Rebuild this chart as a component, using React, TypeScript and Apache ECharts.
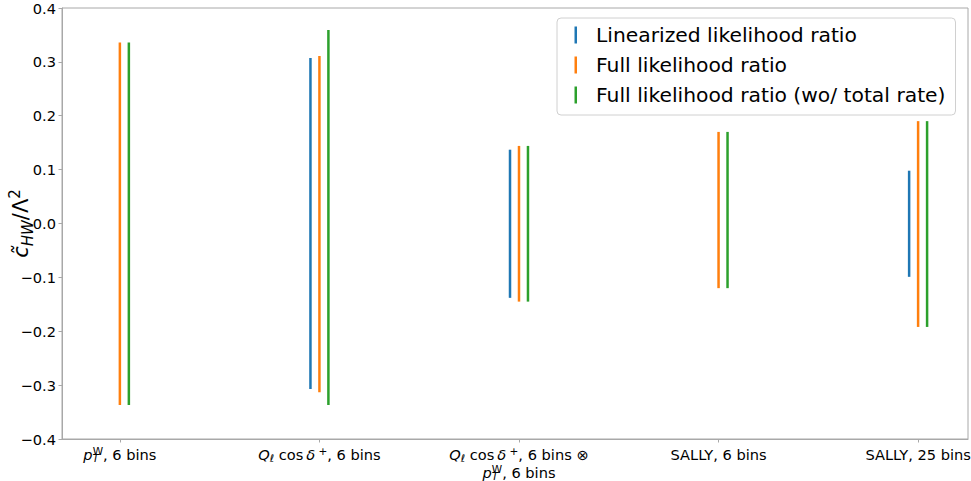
import React, { useEffect, useRef } from "react";
import * as echarts from "echarts";

// Category positions (x = 0..4) and their labels (rich text)
const categoryPositions = [0, 1, 2, 3, 4];
const categoryLabels = [
  "{i|p}{subz|T}{sup|W}{n|, 6 bins}",
  "{i|Q}{sub|ℓ}{n| cos\u2009}{i|δ}{sup| +}{n|, 6 bins}",
  "{i|Q}{sub|ℓ}{n| cos\u2009}{i|δ}{sup| +}{n|, 6 bins ⊗}\n{i|p}{subz|T}{sup|W}{n|, 6 bins}",
  "{n|SALLY, 6 bins}",
  "{n|SALLY, 25 bins}",
];

// Interval ends for each method (null = not shown)
const linearLow = [null, -0.307, -0.138, null, -0.099];
const linearHigh = [null, 0.307, 0.137, null, 0.098];
const fullLow = [-0.337, -0.313, -0.145, -0.12, -0.192];
const fullHigh = [0.336, 0.311, 0.144, 0.17, 0.19];
const woRateLow = [-0.337, -0.337, -0.145, -0.12, -0.192];
const woRateHigh = [0.336, 0.359, 0.144, 0.17, 0.19];

const seriesNames = [
  "Linearized likelihood ratio",
  "Full likelihood ratio",
  "Full likelihood ratio (wo/ total rate)",
];
const seriesColors = ["#1f77b4", "#ff7f0e", "#2ca02c"];
const seriesOffsets = [-0.045, 0, 0.045];

const yTicks = [-0.4, -0.3, -0.2, -0.1, 0, 0.1, 0.2, 0.3, 0.4];

const FONT = "DejaVu Sans";

function buildData(low: (number | null)[], high: (number | null)[], off: number) {
  const out: any[] = [];
  categoryPositions.forEach((x, i) => {
    const lo = low[i];
    const hi = high[i];
    if (lo != null && hi != null) out.push([x + off, lo, hi]);
  });
  return out;
}

export default function App() {
  const ref = useRef<HTMLDivElement>(null);
  useEffect(() => {
    if (!ref.current) return;
    const chart = echarts.init(ref.current, null, { renderer: "svg" });
    const lows = [linearLow, fullLow, woRateLow];
    const highs = [linearHigh, fullHigh, woRateHigh];
    const series = seriesNames.map((name, k) => ({
      name,
      type: "custom",
      color: seriesColors[k],
      itemStyle: { color: seriesColors[k] },
      encode: { x: 0, y: [1, 2] },
      data: buildData(lows[k], highs[k], seriesOffsets[k]),
      renderItem: (params: any, api: any) => {
        const x = api.value(0);
        const p1 = api.coord([x, api.value(1)]);
        const p2 = api.coord([x, api.value(2)]);
        return {
          type: "line",
          shape: { x1: p1[0], y1: p1[1], x2: p2[0], y2: p2[1] },
          style: { stroke: seriesColors[k], lineWidth: 2.5 },
        };
      },
    }));

    const labelRich = {
      n: { fontFamily: FONT, fontSize: 14.6, color: "#000", lineHeight: 18 },
      i: { fontFamily: FONT, fontSize: 14.6, fontStyle: "italic", color: "#000", lineHeight: 18 },
      sup: { fontFamily: FONT, fontSize: 10.5, color: "#000", lineHeight: 10, verticalAlign: "top" },
      sub: { fontFamily: FONT, fontSize: 10.5, fontStyle: "italic", color: "#000", lineHeight: 10, verticalAlign: "bottom" },
      subz: {
        fontFamily: FONT,
        fontSize: 10.5,
        fontStyle: "italic",
        color: "#000",
        lineHeight: 10,
        verticalAlign: "bottom",
        padding: [0, -6.4, 0, 0],
      },
    };

    chart.setOption({
      animation: false,
      backgroundColor: "#fff",
      textStyle: { fontFamily: FONT },
      grid: {
        left: 62,
        top: 8,
        width: 906,
        height: 431,
        show: true,
        borderColor: "#a8a8a8",
        borderWidth: 1,
        backgroundColor: "transparent",
        outerBoundsMode: "none",
      },
      legend: {
        orient: "vertical",
        left: 557,
        top: 18,
        data: seriesNames,
        icon: "rect",
        itemWidth: 2.5,
        itemHeight: 17,
        itemGap: 8,
        padding: [6, 10, 9, 17.5],
        borderColor: "#d0d0d0",
        borderWidth: 1,
        borderRadius: 4,
        backgroundColor: "rgba(255,255,255,0.8)",
        textStyle: {
          fontFamily: FONT,
          fontSize: 20.3,
          color: "#000",
          lineHeight: 22,
          padding: [0, 0, 0, 14],
        },
      },
      xAxis: {
        type: "value",
        min: -0.29,
        max: 4.25,
        scale: true,
        splitLine: { show: false },
        axisLine: { show: true, onZero: false, lineStyle: { color: "#a8a8a8" } },
        axisTick: {
          show: true,
          customValues: categoryPositions,
          length: 3.5,
          lineStyle: { color: "#a8a8a8" },
        },
        axisLabel: {
          customValues: categoryPositions,
          margin: 6,
          hideOverlap: false,
          formatter: (v: number) => {
            const idx = categoryPositions.indexOf(Math.round(v));
            return idx >= 0 ? categoryLabels[idx] : "";
          },
          rich: labelRich,
        },
      },
      yAxis: {
        type: "value",
        min: -0.4,
        max: 0.4,
        interval: 0.1,
        splitLine: { show: false },
        axisLine: { show: true, onZero: false, lineStyle: { color: "#a8a8a8" } },
        axisTick: { show: true, length: 3.5, lineStyle: { color: "#a8a8a8" } },
        axisLabel: {
          margin: 6,
          fontFamily: FONT,
          fontSize: 14.6,
          color: "#000",
          formatter: (v: number) => {
            const t = yTicks.reduce((a, b) => (Math.abs(b - v) < Math.abs(a - v) ? b : a));
            if (Math.abs(t) < 1e-9) return "0.0";
            const s = Math.abs(t).toFixed(1);
            return t < 0 ? "\u2212" + s : s;
          },
        },
        name: "{c|c\u0303}{sub|HW}{n|/Λ}{sup|2}",
        nameLocation: "middle",
        nameGap: 27,
        nameMoveOverlap: false,
        nameTextStyle: {
          rich: {
            c: { fontFamily: FONT, fontSize: 21, fontStyle: "italic", color: "#000", lineHeight: 28 },
            n: { fontFamily: FONT, fontSize: 21, color: "#000", lineHeight: 28 },
            sub: { fontFamily: FONT, fontSize: 15, fontStyle: "italic", color: "#000", lineHeight: 14, verticalAlign: "bottom" },
            sup: { fontFamily: FONT, fontSize: 15, color: "#000", lineHeight: 14, verticalAlign: "top" },
          },
        },
      },
      series,
    } as any);
    return () => chart.dispose();
  }, []);
  return (
    <div
      ref={ref}
      style={{ position: "absolute", left: 0, top: 0, width: 971, height: 481 }}
    />
  );
}
